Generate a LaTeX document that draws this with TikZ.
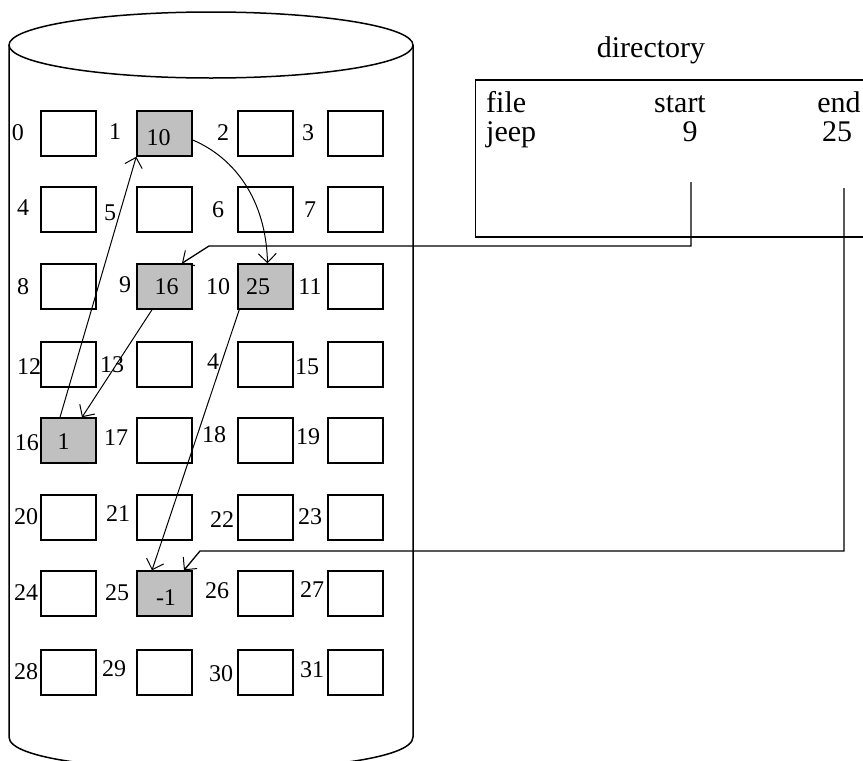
\documentclass[tikz,border=0pt]{standalone}
\usepackage{fontspec}
\setmainfont{Liberation Serif}
\usetikzlibrary{arrows.meta}
\definecolor{blkgray}{HTML}{C0C0C0}
\begin{document}
\begin{tikzpicture}[x=1pt,y=-1pt,
  cyl/.style={line width=1.5pt},
  blk/.style={draw, line width=1.5pt, minimum width=55pt, minimum height=45pt, inner sep=0pt},
  used/.style={blk, fill=blkgray},
  lbl/.style={inner sep=0pt, font=\fontsize{24}{24}\selectfont},
  dtxt/.style={inner sep=0pt, anchor=base, font=\fontsize{30}{30}\selectfont},
  link/.style={line width=1pt, -{Straight Barb[length=9pt,width=18pt]}},
  ptr/.style={line width=1.3pt, -{Straight Barb[length=9pt,width=18pt,line width=1pt]}}
]
\useasboundingbox (0,0) rectangle (863,761);
% cylinder
\draw[cyl] (211,45) ellipse [x radius=202, y radius=33];
\draw[cyl] (9,45) -- (9,737) .. controls (9,781) and (413,781) .. (413,737) -- (413,45);
% blocks
\foreach \n/\cx/\cy in {0/68.5/133.5,1/164.5/133.5,2/265.5/133.5,3/355.5/133.5,
  4/68.5/209.5,5/164.5/209.5,6/265.5/209.5,7/355.5/209.5,
  8/68.5/286.5,9/164.5/286.5,10/265.5/286.5,11/355.5/286.5,
  12/68.5/364.5,13/164.5/364.5,14/265.5/364.5,15/355.5/364.5,
  16/68.5/440.5,17/164.5/440.5,18/265.5/440.5,19/355.5/440.5,
  20/68.5/517.5,21/164.5/517.5,22/265.5/517.5,23/355.5/517.5,
  24/68.5/593.5,25/164.5/593.5,26/265.5/593.5,27/355.5/593.5,
  28/68.5/672.5,29/164.5/672.5,30/265.5/672.5,31/355.5/672.5}
  {\node[blk] (b\n) at (\cx,\cy) {};}
\foreach \n in {1,9,10,16,25}{\node[used] at (b\n) {};}
% block numbers
\foreach \t/\x/\y [count=\i] in {0/18/133,1/115/132,2/223/133,3/308/133,
  4/23/208,5/110/213,6/218/210,7/310/210,
  8/23/287,9/125/285,10/218/287,11/310/287,
  12/29/367,13/112/365,4/213/362,15/307/367,
  16/27/443,17/116/438,18/214/435,19/308/437,
  20/26/517,21/118/514,22/222/520,23/310/517,
  24/26/593,25/117/593,26/217/591,27/312/590,
  28/26/672,29/114/669,30/221/674,31/312/670}
  {\node[lbl] (n\i) at (\x,\y) {\t};}
% block contents
\node[lbl] (v1) at (158.5,138) {10};
\node[lbl] (v9) at (166.5,287) {16};
\node[lbl] (v10) at (258,287) {25};
\node[lbl] (v16) at (63.5,442) {1};
\node[lbl] (v25) at (166,598) {-1};
% directory
\node[dtxt] (dtitle) at (651,57) {directory};
\draw[line width=1.5pt] (475.5,80) rectangle (880,237);
\node[dtxt, anchor=base west] (hfile) at (486,112) {file};
\node[dtxt] (hstart) at (680,112) {start};
\node[dtxt] (hend) at (839,112) {end};
\node[dtxt, anchor=base west] (vjeep) at (486,141) {jeep};
\node[dtxt] (vstart) at (690,141) {9};
\node[dtxt] (vend) at (837,141) {25};
% pointers from directory
\coordinate (s0) at (691,182);
\coordinate (s1) at (691,246);
\coordinate (s2) at (209,246);
\draw[ptr] (s0) -- (s1) -- (s2) -- ([xshift=17.5pt]b9.north);
\coordinate (e0) at (844,188);
\coordinate (e1) at (844,551);
\coordinate (e2) at (200,551);
\draw[ptr] (e0) -- (e1) -- (e2) -- ([xshift=19.5pt]b25.north);
% chain
\draw[link] ([xshift=-12.5pt]b9.south) -- ([xshift=13.5pt]b16.north);
\draw[link] ([xshift=-8.5pt]b16.north) -- (b1.south west);
\draw[link] ([yshift=-6.5pt]b1.east) .. controls (235,158) and (266,200) .. ([xshift=2pt]b10.north);
\draw[link] ([xshift=2pt]b10.south west) -- ([xshift=-12.5pt]b25.north);
\end{tikzpicture}
\end{document}
